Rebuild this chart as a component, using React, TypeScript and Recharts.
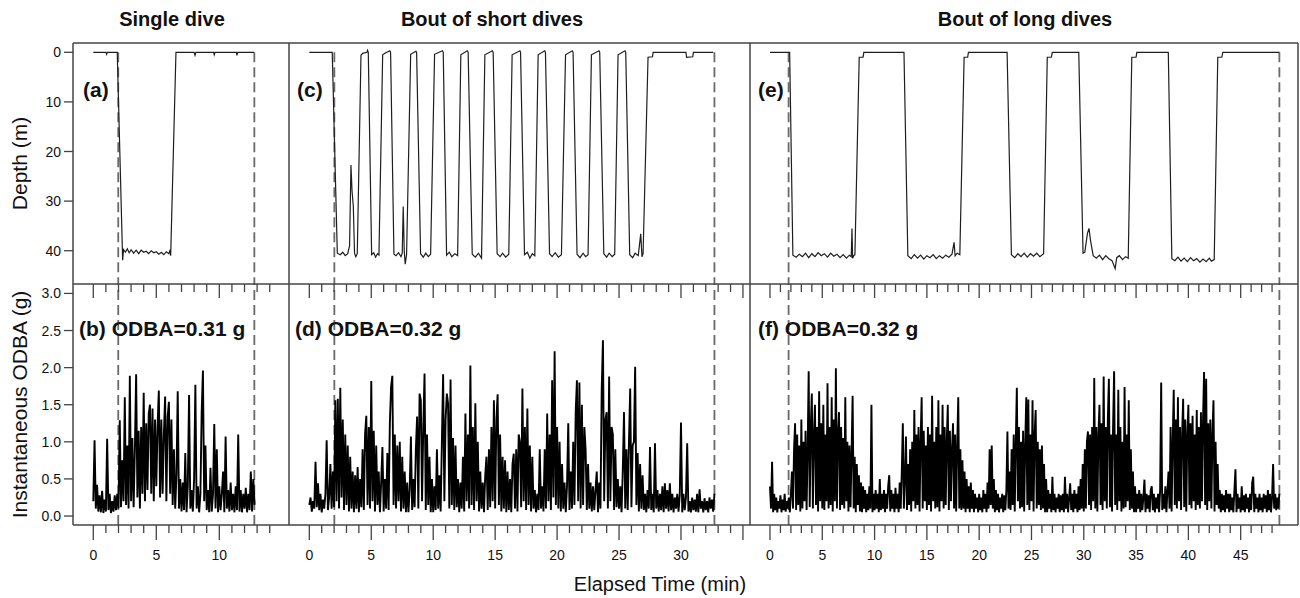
import { LineChart, Line, XAxis, YAxis, ReferenceLine } from "recharts";

const FONT = '"Liberation Sans", Arial, Helvetica, sans-serif';
const INK = "#111";
const FRAME = "#444";

// depth traces: [elapsed minutes, depth in m]
const singleDive: [number, number][] = [
  [0, 0], [1.0, 0], [1.06, 0.4], [1.12, 0], [1.9, 0], [2.33, 41.9], [2.4, 39.8], [2.55, 40.3],
  [2.7, 39.6], [2.85, 40.4], [3.0, 39.8], [3.2, 40.5], [3.4, 39.9], [3.6, 40.6], [3.8, 39.9],
  [4.0, 40.3], [4.2, 40.1], [4.4, 40.6], [4.6, 40.0], [4.8, 40.4], [5.0, 40.2], [5.2, 40.7],
  [5.4, 40.3], [5.6, 40.8], [5.8, 40.2], [6.0, 40.6], [6.1, 39.8], [6.14, 41], [6.56, 0],
  [8.0, 0], [8.07, 0.6], [8.14, 0], [9.55, 0], [9.6, 0.5], [9.66, 0], [11.35, 0], [11.4, 0.6],
  [11.46, 0], [12.75, 0],
];

const shortDives: [number, number][] = [
  [0, 0], [1.85, 0], [2.26, 40.5], [2.5, 40.8], [2.7, 40.3], [2.9, 41], [3.1, 40.6], [3.25, 39],
  [3.36, 22.7], [3.45, 28], [3.55, 31], [3.65, 40.5], [3.75, 41.2], [3.87, 40.6], [4.17, 0.6],
  [4.3, 0.2], [4.65, 0], [4.7, -0.4], [4.76, 0], [5.03, 40.8], [5.2, 40.4], [5.35, 41.3],
  [5.5, 40.6], [5.62, 40.9], [5.92, 0.5], [6.1, 0.2], [6.5, -0.3], [6.56, 0], [6.83, 40.7],
  [7.0, 41], [7.2, 40.4], [7.4, 41.2], [7.5, 40.5], [7.58, 31.1], [7.66, 40], [7.74, 42.7],
  [7.85, 40.8], [8.18, 0.4], [8.6, -0.2], [8.66, 0], [8.98, 40.6], [9.2, 41.3], [9.4, 40.5],
  [9.6, 41.2], [9.79, 40.7], [10.11, 0.4], [10.75, -0.3], [10.81, 0], [11.08, 40.9], [11.3, 40.3],
  [11.5, 41.2], [11.75, 40.6], [11.97, 41], [12.23, 0.5], [12.75, -0.3], [12.82, 0], [13.15, 40.7],
  [13.4, 41.3], [13.65, 40.5], [13.9, 41.5], [14.17, 0.5], [14.78, -0.3], [14.84, 0], [15.16, 40.6],
  [15.4, 41.2], [15.6, 40.5], [15.85, 41.3], [16.1, 40.7], [16.37, 0.5], [17.0, -0.3], [17.05, 0],
  [17.37, 40.8], [17.6, 40.3], [17.8, 41.5], [18.0, 40.6], [18.2, 41], [18.47, 0.5], [19.0, -0.3],
  [19.06, 0], [19.39, 40.6], [19.6, 41.2], [19.85, 40.4], [20.1, 41.3], [20.35, 40.8], [20.68, 0.5],
  [21.23, -0.3], [21.29, 0], [21.61, 40.7], [21.85, 41.4], [22.1, 40.5], [22.3, 41.2], [22.5, 40.8],
  [22.77, 0.5], [23.38, -0.3], [23.44, 0], [23.77, 40.6], [24.0, 41.3], [24.2, 40.5], [24.45, 41.2],
  [24.65, 40.7], [24.92, 0.5], [25.48, -0.3], [25.54, 0], [25.86, 40.8], [26.1, 41.4], [26.3, 40.5],
  [26.55, 41], [26.75, 36.6], [26.85, 41.2], [26.94, 40.6], [27.34, 1], [27.7, 0.9], [27.75, 0],
  [30.4, 0], [30.45, 1], [30.95, 0.9], [31.0, 0], [32.6, 0],
];

const longDives: [number, number][] = [
  [0, 0], [1.88, 0], [2.19, 40.9], [2.5, 41.3], [2.8, 40.7], [3.1, 41.2], [3.4, 40.5], [3.7, 41.4],
  [4.0, 40.6], [4.3, 41.2], [4.6, 40.4], [4.9, 41], [5.2, 40.6], [5.5, 41.3], [5.8, 40.5],
  [6.1, 41.1], [6.4, 40.7], [6.7, 41.4], [7.0, 40.8], [7.3, 41.5], [7.6, 40.9], [7.77, 41.2],
  [7.84, 35.5], [7.9, 41.5], [8.01, 41], [8.12, 40.8], [8.53, 1], [8.9, 1], [8.97, 0], [12.81, 0],
  [13.18, 41], [13.5, 41.6], [13.8, 40.8], [14.1, 41.5], [14.4, 40.9], [14.7, 41.7], [15.0, 41],
  [15.3, 41.4], [15.6, 40.8], [15.9, 41.6], [16.2, 41], [16.5, 41.5], [16.8, 40.9], [17.1, 41.3],
  [17.4, 40.7], [17.6, 38.3], [17.7, 41], [17.9, 40.5], [18.15, 40.8], [18.56, 1], [18.9, 1],
  [18.97, 0], [22.67, 0], [23.08, 40.8], [23.4, 41.4], [23.7, 40.6], [24.0, 41.2], [24.3, 40.5],
  [24.6, 41.3], [24.9, 40.6], [25.2, 41.1], [25.5, 40.5], [25.8, 41.2], [26.16, 40.6], [26.51, 1],
  [26.9, 1], [26.99, 0], [29.52, 0], [29.93, 40.5], [30.1, 40.3], [30.35, 36.5], [30.5, 35.5],
  [30.65, 38], [30.9, 41], [31.2, 41.5], [31.5, 40.9], [31.8, 41.8], [32.1, 41], [32.4, 41.6],
  [32.7, 42], [33.0, 43.6], [33.15, 41.4], [33.4, 41], [33.7, 41.8], [34.0, 41.2], [34.25, 41.5],
  [34.59, 1], [35.0, 1], [35.07, 0], [38.08, 0], [38.42, 41.6], [38.7, 42], [39.0, 41.3],
  [39.3, 42.1], [39.6, 41.5], [39.9, 42.2], [40.2, 41.4], [40.5, 42], [40.8, 41.6], [41.1, 42.3],
  [41.4, 41.7], [41.7, 42.2], [42.0, 41.5], [42.2, 42.1], [42.47, 41.8], [42.81, 1], [43.2, 1],
  [43.29, 0], [48.7, 0],
];

// instantaneous ODBA (g), one sample every 0.1 min from t = 0
const odbaStep = 0.1;

const odbaSingle = [
  0.2, 1.02, 0.1, 0.42, 0.06, 0.28, 0.05, 0.34, 0.04, 0.22,
  0.06, 1.04, 0.08, 0.3, 0.04, 0.2, 0.06, 0.28, 0.08, 0.3,
  0.1, 1.29, 0.12, 0.75, 0.2, 1.6, 0.15, 0.95, 0.1, 1.89,
  0.2, 1.05, 0.12, 0.9, 1.91, 0.25, 1.15, 0.1, 1.2, 0.3,
  1.66, 0.2, 1.25, 0.35, 1.38, 1.5, 0.3, 1.45, 0.2, 1.3,
  0.4, 1.2, 1.69, 0.25, 1.3, 0.3, 1.1, 1.61, 0.2, 1.33,
  1.54, 0.3, 1.3, 0.15, 0.9, 0.1, 0.55, 1.68, 0.1, 0.5,
  0.06, 0.45, 0.08, 0.85, 0.05, 0.4, 1.63, 0.1, 0.35, 0.06,
  0.5, 1.77, 0.1, 0.4, 0.05, 0.3, 1.4, 1.96, 0.2, 0.95,
  0.08, 0.35, 0.05, 0.65, 0.06, 0.3, 1.24, 0.1, 0.9, 0.05,
  0.4, 0.08, 0.3, 0.6, 0.05, 1.07, 0.1, 0.35, 0.06, 0.45,
  0.08, 0.3, 0.05, 0.4, 0.08, 1.1, 0.06, 0.35, 0.05, 0.3,
  0.1, 0.38, 0.05, 0.3, 0.08, 0.6, 0.06, 0.5, 0.15,
];

const odbaShort = [
  0.15, 0.25, 0.06, 0.2, 0.1, 0.73, 0.12, 0.44, 0.08, 0.3,
  0.05, 0.22, 0.1, 0.3, 1.02, 0.08, 0.25, 0.7, 0.1, 0.6,
  0.12, 1.56, 0.2, 1.58, 0.1, 1.73, 0.25, 1.3, 0.08, 1.1,
  0.15, 0.95, 0.06, 0.8, 0.1, 0.6, 0.05, 0.55, 0.1, 0.66,
  0.05, 0.5, 0.12, 0.9, 0.08, 1.1, 1.35, 0.15, 1.2, 0.1,
  1.82, 0.2, 1.15, 0.06, 0.95, 0.15, 0.6, 0.05, 0.45, 0.93,
  0.06, 0.5, 0.1, 0.85, 0.08, 1.25, 1.74, 1.89, 0.15, 1.1,
  0.1, 0.95, 0.2, 1.0, 0.06, 0.8, 0.1, 0.6, 0.05, 0.45,
  0.05, 0.35, 1.07, 0.08, 0.5, 0.12, 0.9, 1.34, 0.1, 1.65,
  1.56, 0.2, 1.2, 1.92, 0.08, 1.1, 0.15, 0.8, 0.05, 0.5,
  0.05, 0.4, 0.08, 0.9, 0.1, 0.55, 0.06, 1.0, 1.91, 0.2,
  1.3, 1.65, 1.52, 0.1, 1.84, 0.15, 1.05, 0.08, 0.95, 0.12,
  0.5, 0.05, 0.45, 0.1, 0.8, 0.06, 1.38, 0.2, 1.1, 0.1,
  2.03, 0.15, 1.2, 0.08, 1.52, 0.2, 1.0, 0.06, 0.6, 0.1,
  0.45, 0.05, 0.55, 0.8, 0.08, 0.9, 0.12, 1.2, 0.2, 1.56,
  0.1, 1.3, 1.64, 0.15, 1.1, 0.06, 0.8, 0.1, 0.75, 0.05,
  0.6, 0.08, 0.5, 0.05, 0.7, 0.84, 0.1, 0.9, 0.06, 1.1,
  1.0, 0.12, 1.72, 0.2, 1.2, 0.08, 1.45, 0.15, 0.95, 0.06,
  0.8, 0.1, 0.35, 0.05, 0.3, 0.08, 0.9, 0.1, 0.4, 0.06,
  0.9, 0.1, 1.38, 0.2, 1.1, 0.08, 1.83, 0.25, 2.22, 0.15,
  1.2, 0.1, 1.0, 0.06, 0.7, 0.1, 0.45, 0.05, 0.4, 1.25,
  0.08, 0.6, 0.1, 1.0, 0.15, 1.4, 1.83, 0.2, 1.8, 0.1,
  1.5, 0.15, 1.2, 0.9, 0.08, 0.7, 0.1, 0.45, 0.06, 0.4,
  0.08, 0.35, 0.6, 0.05, 0.45, 0.1, 1.7, 2.37, 0.2, 1.3,
  1.4, 0.1, 1.88, 0.2, 1.2, 1.1, 0.08, 0.9, 0.12, 0.5,
  0.1, 0.4, 0.05, 0.6, 1.4, 0.1, 0.9, 0.08, 1.0, 1.72,
  0.12, 0.95, 1.0, 2.01, 0.15, 0.85, 0.06, 0.7, 0.1, 0.55,
  0.08, 0.3, 0.05, 0.35, 0.1, 0.93, 0.08, 0.3, 0.05, 0.98,
  0.1, 0.35, 0.06, 0.3, 0.08, 0.4, 0.05, 0.44, 0.1, 0.35,
  0.06, 0.44, 0.08, 0.3, 0.05, 0.25, 0.1, 0.3, 0.06, 0.28,
  1.26, 0.05, 0.3, 0.08, 0.25, 0.98, 0.06, 0.2, 0.05, 0.25,
  0.08, 0.22, 0.06, 0.3, 0.05, 0.36, 0.1, 0.2, 0.05, 0.24,
  0.08, 0.2, 0.05, 0.25, 0.1, 0.22, 0.06, 0.3,
];

const odbaLong = [
  0.4, 0.1, 0.73, 0.05, 0.3, 0.08, 0.25, 0.05, 0.2, 0.1,
  0.28, 0.05, 0.22, 0.08, 0.3, 0.06, 0.2, 0.1, 0.25, 0.05,
  0.3, 0.6, 0.1, 0.9, 1.25, 0.08, 1.1, 0.15, 0.95, 0.06,
  1.3, 0.1, 1.0, 0.2, 1.15, 0.08, 0.9, 1.95, 0.12, 1.2,
  1.65, 0.1, 1.1, 1.5, 0.15, 1.2, 0.06, 1.68, 0.2, 1.25,
  0.1, 1.5, 0.08, 1.1, 0.2, 1.79, 0.1, 1.2, 0.15, 1.6,
  0.06, 1.3, 0.2, 1.99, 0.1, 1.1, 1.4, 0.08, 1.2, 0.15,
  1.05, 0.1, 1.6, 0.2, 1.0, 0.06, 0.95, 0.12, 0.85, 1.62,
  0.1, 0.8, 0.05, 0.7, 0.15, 0.55, 0.06, 0.45, 0.05, 0.4,
  0.1, 0.35, 0.05, 0.3, 0.08, 0.4, 0.1, 1.5, 0.05, 0.3,
  0.08, 0.35, 0.1, 0.3, 0.05, 0.5, 0.08, 0.3, 0.1, 0.35,
  0.05, 0.3, 0.1, 0.4, 0.55, 0.06, 0.35, 0.1, 0.3, 0.05,
  0.38, 0.1, 0.3, 0.05, 0.45, 0.1, 0.6, 1.25, 0.1, 0.5,
  1.07, 0.08, 0.7, 0.15, 0.9, 0.06, 1.0, 0.2, 1.43, 0.1,
  1.1, 0.15, 1.2, 0.06, 1.0, 1.6, 0.1, 1.15, 0.2, 0.95,
  0.08, 1.2, 0.15, 1.1, 0.06, 1.62, 0.2, 1.0, 0.1, 1.2,
  0.12, 1.56, 0.06, 1.1, 0.2, 1.5, 0.1, 1.2, 0.15, 1.0,
  1.5, 0.08, 1.15, 0.2, 0.9, 1.25, 0.1, 1.1, 0.06, 0.95,
  1.6, 0.1, 0.9, 0.08, 0.75, 0.1, 0.6, 0.05, 0.5, 0.1,
  0.4, 0.05, 0.45, 0.1, 0.35, 0.05, 0.3, 0.1, 0.25, 0.05,
  0.3, 0.08, 0.25, 0.05, 0.35, 0.1, 0.3, 0.05, 0.45, 0.1,
  0.9, 0.15, 0.95, 0.1, 0.5, 0.05, 0.35, 0.08, 0.3, 0.05,
  0.25, 0.1, 0.3, 0.05, 0.28, 0.08, 0.35, 1.14, 0.1, 0.6,
  0.08, 0.9, 0.15, 1.1, 0.06, 1.0, 1.73, 0.2, 1.2, 0.1,
  1.0, 0.12, 1.15, 0.06, 0.95, 1.6, 0.15, 1.57, 0.08, 1.1,
  0.2, 1.56, 0.06, 1.1, 1.43, 0.1, 1.0, 0.15, 0.9, 0.08,
  0.95, 0.1, 0.7, 0.05, 0.5, 0.05, 0.35, 0.1, 0.3, 0.05,
  0.53, 0.08, 0.3, 0.05, 0.25, 0.1, 0.3, 0.05, 0.28, 0.08,
  0.3, 0.05, 0.53, 0.1, 0.3, 0.05, 0.25, 0.44, 0.08, 0.3,
  0.05, 0.35, 0.1, 0.3, 0.05, 0.4, 0.08, 0.5, 0.1, 0.7,
  0.06, 0.9, 0.1, 1.0, 1.14, 0.15, 1.1, 0.08, 1.2, 0.2,
  1.86, 0.1, 1.2, 0.06, 1.1, 1.5, 0.15, 1.25, 0.08, 1.88,
  0.2, 1.2, 0.1, 1.3, 1.85, 0.12, 1.1, 0.06, 1.2, 1.95,
  0.15, 1.1, 0.08, 1.7, 0.2, 1.2, 0.06, 1.0, 0.1, 1.74,
  0.12, 1.1, 0.2, 1.56, 0.08, 0.9, 0.1, 0.6, 0.05, 0.4,
  0.05, 0.3, 0.1, 0.35, 0.05, 0.3, 0.08, 0.25, 0.49, 0.05,
  0.3, 0.1, 0.28, 0.05, 0.35, 0.4, 0.08, 0.3, 0.05, 0.25,
  0.1, 0.3, 0.05, 0.35, 1.8, 0.08, 0.3, 0.1, 0.4, 0.05,
  0.35, 0.6, 0.1, 1.2, 0.06, 1.0, 1.7, 0.15, 1.3, 0.1,
  1.6, 0.2, 1.2, 0.08, 1.1, 1.58, 0.12, 1.3, 0.06, 1.1,
  1.5, 0.15, 1.25, 0.1, 1.35, 0.2, 1.1, 0.08, 1.43, 0.15,
  1.2, 0.1, 1.4, 0.2, 1.3, 1.94, 0.15, 1.85, 0.08, 1.25,
  0.2, 1.3, 0.1, 1.1, 1.56, 0.06, 1.0, 0.15, 0.7, 0.1,
  0.35, 0.05, 0.3, 0.08, 0.28, 0.05, 0.35, 0.1, 0.3, 0.05,
  0.3, 0.08, 0.25, 0.05, 0.35, 0.63, 0.05, 0.3, 0.1, 0.25,
  0.05, 0.4, 0.08, 0.28, 0.05, 0.3, 0.1, 0.25, 0.05, 0.3,
  0.08, 0.45, 0.53, 0.05, 0.3, 0.1, 0.25, 0.05, 0.3, 0.08,
  0.25, 0.05, 0.3, 0.1, 0.28, 0.05, 0.35, 0.08, 0.3, 0.05,
  0.25, 0.7, 0.1, 0.3, 0.08, 0.25, 0.1, 0.3,
];

// start / end of each analysed window (min)
const windowSingle = [1.98, 12.78];
const windowShort = [2.02, 32.7];
const windowLong = [1.78, 48.7];

const timeTicksSingle = [0, 1, 2, 3, 4, 5, 6, 7, 8, 9, 10, 11, 12, 13, 14];
const timeTicksShort = [
  0, 1, 2, 3, 4, 5, 6, 7, 8, 9, 10, 11, 12, 13, 14, 15, 16, 17, 18, 19, 20, 21, 22, 23, 24, 25,
  26, 27, 28, 29, 30, 31, 32, 33, 34, 35,
];
const timeTicksLong = [
  0, 1, 2, 3, 4, 5, 6, 7, 8, 9, 10, 11, 12, 13, 14, 15, 16, 17, 18, 19, 20, 21, 22, 23, 24, 25,
  26, 27, 28, 29, 30, 31, 32, 33, 34, 35, 36, 37, 38, 39, 40, 41, 42, 43, 44, 45, 46, 47, 48,
];
const timeLabelsSingle = [0, 5, 10];
const timeLabelsShort = [0, 5, 10, 15, 20, 25, 30];
const timeLabelsLong = [0, 5, 10, 15, 20, 25, 30, 35, 40, 45];
const depthTicks = [0, 10, 20, 30, 40];
const odbaTicks = [0, 0.5, 1, 1.5, 2, 2.5, 3];

const columnTitles = ["Single dive", "Bout of short dives", "Bout of long dives"];
const depthLabels = ["(a)", "(c)", "(e)"];
const odbaLabels = ["(b) ODBA=0.31 g", "(d) ODBA=0.32 g", "(f) ODBA=0.32 g"];

// layout (px)
const FRAME_X = [73, 289, 750, 1298];
const FRAME_Y = [43, 284, 525];
const PLOT_H = 241;
const AXIS_W = 73;
const X_AXIS_H = 49;
const DEPTH_DOMAIN: [number, number] = [-1.875, 46.71];
const ODBA_DOMAIN: [number, number] = [-0.121, 3.127];

function timeTick(labels: number[]) {
  return (props: any) => {
    const { x, y, payload } = props;
    const v = payload.value;
    const major = v % 5 === 0;
    return (
      <g>
        <line x1={x} x2={x} y1={y} y2={y + (major ? 15 : 8)} stroke={FRAME} strokeWidth={1.3} />
        <line x1={x} x2={x} y1={y - PLOT_H} y2={y - PLOT_H + (major ? 14 : 8)} stroke={FRAME} strokeWidth={1.3} />
        {labels.includes(v) && (
          <text x={x} y={y + 35} textAnchor="middle" fontSize={14} fill={INK} fontFamily={FONT}>
            {v}
          </text>
        )}
      </g>
    );
  };
}

function valueTick(format: (v: number) => string) {
  return (props: any) => {
    const { x, y, payload } = props;
    return (
      <g>
        <line x1={x - 9} x2={x} y1={y} y2={y} stroke={FRAME} strokeWidth={1.3} />
        <text x={x - 12} y={y} textAnchor="end" dominantBaseline="central" fontSize={14} fill={INK} fontFamily={FONT}>
          {format(payload.value)}
        </text>
      </g>
    );
  };
}

const depthTick = valueTick((v) => String(v));
const odbaTick = valueTick((v) => v.toFixed(1));

const columns = [
  { left: 0, width: 289, yAxis: true, xDomain: [-1.61, 15.53], depth: singleDive, odba: odbaSingle, window: windowSingle, ticks: timeTicksSingle, tick: timeTick(timeLabelsSingle), titleX: 172, labelX: [83, 79] },
  { left: 289, width: 461, yAxis: false, xDomain: [-1.64, 35.57], depth: shortDives, odba: odbaShort, window: windowShort, ticks: timeTicksShort, tick: timeTick(timeLabelsShort), titleX: 492, labelX: [297, 295] },
  { left: 750, width: 548, yAxis: false, xDomain: [-1.91, 50.48], depth: longDives, odba: odbaLong, window: windowLong, ticks: timeTicksLong, tick: timeTick(timeLabelsLong), titleX: 1025, labelX: [758, 758] },
];

function DepthPanel({ col }: { col: (typeof columns)[number] }) {
  const rows = col.depth.map(([t, d]) => ({ t, d }));
  return (
    <div style={{ position: "absolute", left: col.left, top: 0 }}>
      <LineChart width={col.width} height={FRAME_Y[1]} data={rows} margin={{ top: FRAME_Y[0], right: 0, bottom: 0, left: 0 }}>
        <XAxis type="number" dataKey="t" domain={col.xDomain} allowDataOverflow hide />
        {col.yAxis ? (
          <YAxis
            type="number"
            domain={DEPTH_DOMAIN}
            reversed
            allowDataOverflow
            width={AXIS_W}
            ticks={depthTicks}
            interval={0}
            axisLine={false}
            tickLine={false}
            tickSize={0}
            tickMargin={0}
            tick={depthTick}
          />
        ) : (
          <YAxis type="number" domain={DEPTH_DOMAIN} reversed allowDataOverflow hide />
        )}
        {col.window.map((w) => (
          <ReferenceLine
            key={w}
            segment={[{ x: w, y: 0 }, { x: w, y: DEPTH_DOMAIN[1] }]}
            ifOverflow="visible"
            stroke="#6a6a6a"
            strokeWidth={1.8}
            strokeDasharray="10 5"
          />
        ))}
        <Line type="linear" dataKey="d" stroke="#1e1e1e" strokeWidth={1.2} dot={false} isAnimationActive={false} />
      </LineChart>
    </div>
  );
}

function OdbaPanel({ col }: { col: (typeof columns)[number] }) {
  const rows = col.odba.map((v, i) => ({ t: +(i * odbaStep).toFixed(2), v }));
  return (
    <div style={{ position: "absolute", left: col.left, top: FRAME_Y[1] }}>
      <LineChart width={col.width} height={PLOT_H + X_AXIS_H} data={rows} margin={{ top: 0, right: 0, bottom: 0, left: 0 }}>
        <XAxis
          type="number"
          dataKey="t"
          domain={col.xDomain}
          allowDataOverflow
          ticks={col.ticks}
          interval={0}
          height={X_AXIS_H}
          axisLine={false}
          tickLine={false}
          tickSize={0}
          tickMargin={0}
          tick={col.tick}
        />
        {col.yAxis ? (
          <YAxis
            type="number"
            domain={ODBA_DOMAIN}
            allowDataOverflow
            width={AXIS_W}
            ticks={odbaTicks}
            interval={0}
            axisLine={false}
            tickLine={false}
            tickSize={0}
            tickMargin={0}
            tick={odbaTick}
          />
        ) : (
          <YAxis type="number" domain={ODBA_DOMAIN} allowDataOverflow hide />
        )}
        {col.window.map((w) => (
          <ReferenceLine key={w} x={w} stroke="#6a6a6a" strokeWidth={1.8} strokeDasharray="10 5" />
        ))}
        <Line type="linear" dataKey="v" stroke="#000" strokeWidth={1.9} strokeLinejoin="miter" dot={false} isAnimationActive={false} />
      </LineChart>
    </div>
  );
}

export default function App() {
  const [x0, x1, x2, x3] = FRAME_X;
  const [y0, y1, y2] = FRAME_Y;
  return (
    <div style={{ position: "absolute", left: 0, top: 0, width: 1300, height: 598, background: "#fff", overflow: "hidden" }}>
      {columns.map((col, i) => (
        <DepthPanel key={`d${i}`} col={col} />
      ))}
      {columns.map((col, i) => (
        <OdbaPanel key={`o${i}`} col={col} />
      ))}
      <svg width={1300} height={598} style={{ position: "absolute", left: 0, top: 0, pointerEvents: "none" }}>
        <g stroke={FRAME} strokeWidth={1.5}>
          {FRAME_Y.map((y) => (
            <line key={`h${y}`} x1={x0} x2={x3} y1={y} y2={y} />
          ))}
          {[x0, x1, x2, x3].map((x) => (
            <line key={`v${x}`} x1={x} x2={x} y1={y0} y2={y2} />
          ))}
        </g>
        <g fontFamily={FONT} fill={INK}>
          {columns.map((col, i) => (
            <text key={`t${i}`} x={col.titleX} y={26} textAnchor="middle" fontSize={20} fontWeight="bold">
              {columnTitles[i]}
            </text>
          ))}
          {columns.map((col, i) => (
            <text key={`a${i}`} x={col.labelX[0]} y={97} fontSize={21} fontWeight="bold">
              {depthLabels[i]}
            </text>
          ))}
          {columns.map((col, i) => (
            <text key={`b${i}`} x={col.labelX[1]} y={336} fontSize={21} fontWeight="bold">
              {odbaLabels[i]}
            </text>
          ))}
          <text transform={`translate(27,${(y0 + y1) / 2}) rotate(-90)`} textAnchor="middle" fontSize={21}>
            Depth (m)
          </text>
          <text transform={`translate(27,${(y1 + y2) / 2}) rotate(-90)`} textAnchor="middle" fontSize={21}>
            Instantaneous ODBA (g)
          </text>
          <text x={660} y={591} textAnchor="middle" fontSize={20}>
            Elapsed Time (min)
          </text>
        </g>
      </svg>
    </div>
  );
}
